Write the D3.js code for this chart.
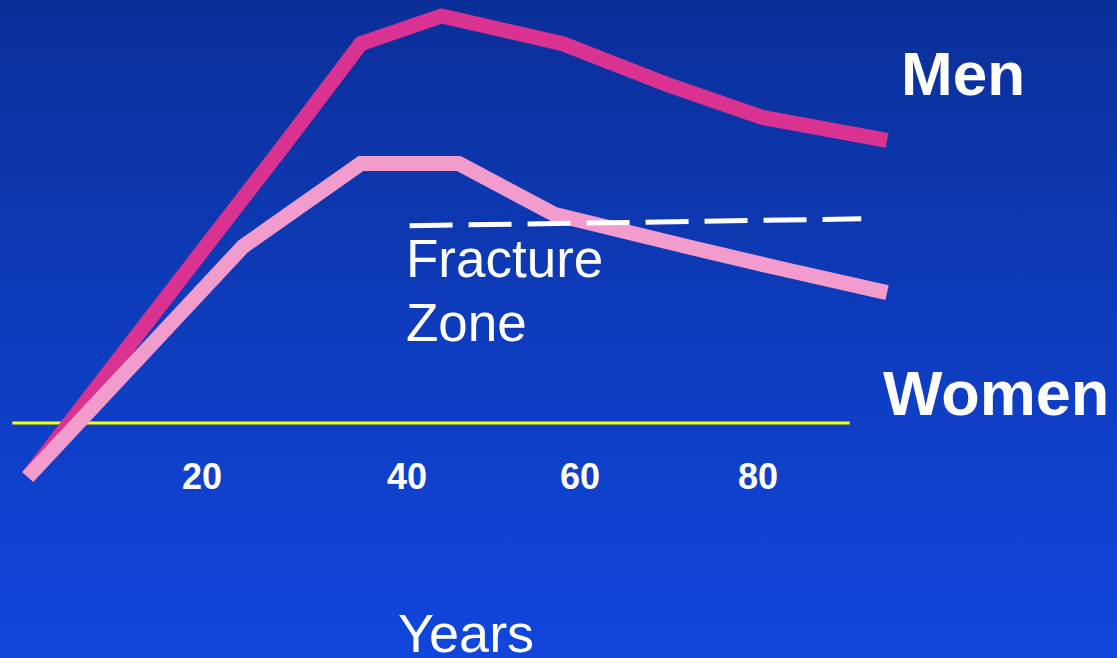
<!DOCTYPE html>
<html>
<head>
<meta charset="utf-8">
<script src="https://cdn.jsdelivr.net/npm/d3@7"></script>
<style>
  html, body { margin: 0; padding: 0; overflow: hidden; }
  svg { display: block; }
  text { font-family: 'Liberation Sans', Arial, sans-serif; fill: #fff; }
</style>
</head>
<body>
<div class="canvas"></div>
<script>
// bone mass (arbitrary units) against age
const menAges = [3, 28, 35.5, 44, 58, 70, 80.5, 94.5];
const menValues = [0, 72, 94, 100, 94, 85, 78, 73];
const womenAges = [3, 24, 35.5, 46, 57, 72, 83, 94.5];
const womenValues = [0, 50, 68, 68, 57, 50, 45, 40];
const fractureAges = [40.3, 91.6];
const fractureValues = [54.5, 56];
const baselineAges = [1.5, 90.3];
const baselineValues = [11.7, 11.7];
const tickLabels = [20, 40, 60, 80];

const dims = { width: 1117, height: 658 };

const svg = d3.select('.canvas')
  .append('svg')
    .attr('width', dims.width)
    .attr('height', dims.height)

const defs = svg.append('defs')
const grad = defs.append('linearGradient')
  .attr('id', 'bg')
  .attr('x1', 0).attr('y1', 0)
  .attr('x2', 0).attr('y2', 1)
grad.append('stop').attr('offset', '0%').attr('stop-color', '#0b2f99')
grad.append('stop').attr('offset', '55%').attr('stop-color', '#0e3dc0')
grad.append('stop').attr('offset', '100%').attr('stop-color', '#1146dd')

svg.append('rect')
  .attr('width', dims.width)
  .attr('height', dims.height)
  .attr('fill', 'url(#bg)')

// slide axis is not evenly spaced, so use a piecewise scale
const x = d3.scaleLinear()
  .domain([20, 40, 60, 80])
  .range([202, 407, 580, 758])

const y = d3.scaleLinear()
  .domain([0, 100])
  .range([477, 16])

const line = d3.line()
  .x(d => x(d[0]))
  .y(d => y(d[1]))

const zip = (a, b) => a.map((v, i) => [v, b[i]])

svg.append('path')
  .attr('d', line(zip(baselineAges, baselineValues)))
  .attr('fill', 'none')
  .attr('stroke', '#ffff00')
  .attr('stroke-width', 3)

svg.append('path')
  .attr('d', line(zip(menAges, menValues)))
  .attr('fill', 'none')
  .attr('stroke', '#d93290')
  .attr('stroke-width', 15)
  .attr('stroke-linejoin', 'miter')

svg.append('path')
  .attr('d', line(zip(womenAges, womenValues)))
  .attr('fill', 'none')
  .attr('stroke', '#f29ccd')
  .attr('stroke-width', 15)
  .attr('stroke-linejoin', 'miter')

svg.append('path')
  .attr('d', line(zip(fractureAges, fractureValues)))
  .attr('fill', 'none')
  .attr('stroke', '#fff')
  .attr('stroke-width', 5)
  .attr('stroke-dasharray', '43 16')

svg.selectAll('.tick')
  .data(tickLabels)
  .enter()
  .append('text')
    .attr('class', 'tick')
    .attr('x', d => x(d))
    .attr('y', 489)
    .attr('text-anchor', 'middle')
    .attr('font-size', 36)
    .attr('font-weight', 'bold')
    .text(d => d)

svg.append('text')
  .attr('x', 901).attr('y', 95)
  .attr('font-size', 62)
  .attr('font-weight', 'bold')
  .text('Men')

svg.append('text')
  .attr('x', 883).attr('y', 415)
  .attr('font-size', 63)
  .attr('font-weight', 'bold')
  .text('Women')

svg.append('text')
  .attr('x', 406).attr('y', 277)
  .attr('font-size', 53)
  .text('Fracture')

svg.append('text')
  .attr('x', 406).attr('y', 341)
  .attr('font-size', 53)
  .text('Zone')

svg.append('text')
  .attr('x', 398).attr('y', 652)
  .attr('font-size', 54)
  .text('Years')
</script>
</body>
</html>
